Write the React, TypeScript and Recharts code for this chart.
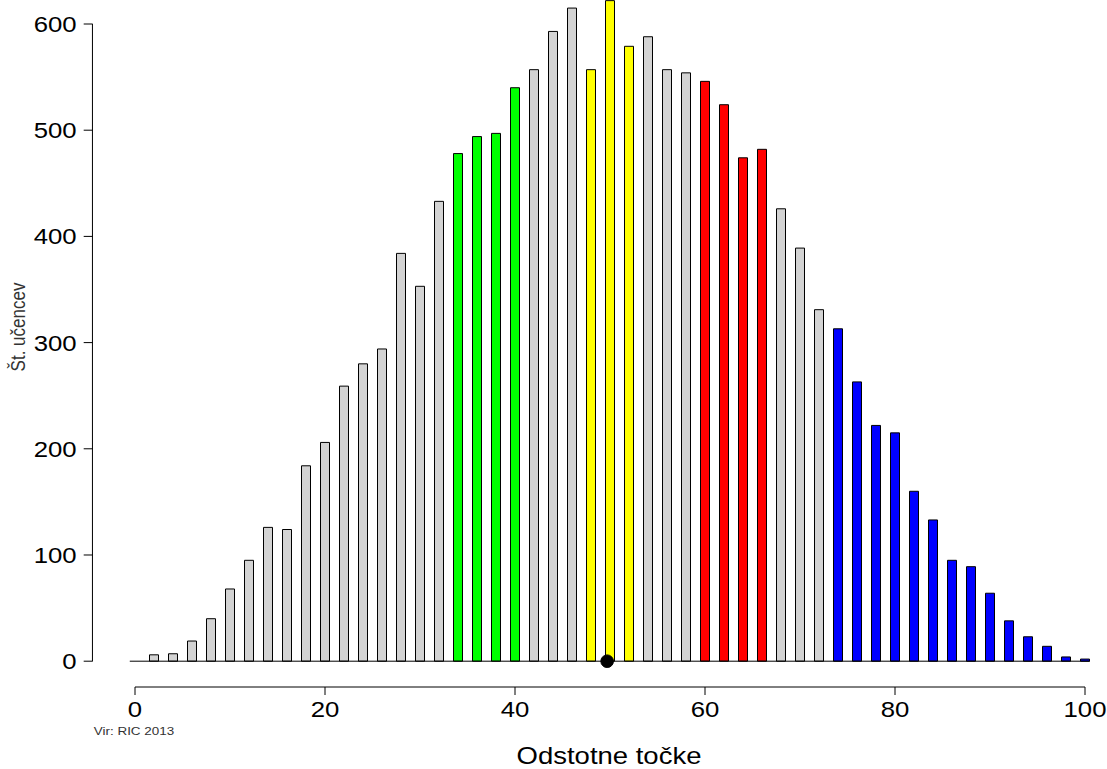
import { Bar, Cell, ComposedChart, Label, ReferenceDot, ReferenceLine, XAxis, YAxis } from 'recharts';

// odstotne točke (centre of each 2-point class)
const points = [
    0, 2, 4, 6, 8, 10, 12, 14, 16, 18, 20, 22, 24, 26, 28, 30, 32, 34, 36, 38, 40, 42, 44, 46, 48, 50,
    52, 54, 56, 58, 60, 62, 64, 66, 68, 70, 72, 74, 76, 78, 80, 82, 84, 86, 88, 90, 92, 94, 96, 98, 100
];
// število učencev
const students = [
    0, 6, 7, 19, 40, 68, 95, 126, 124, 184, 206, 259, 280, 294, 384, 353, 433, 478, 494, 497, 540, 557, 593, 615, 557, 622,
    579, 588, 557, 554, 546, 524, 474, 482, 426, 389, 331, 313, 263, 222, 215, 160, 133, 95, 89, 64, 38, 23, 14, 4, 2
];

const greenPoints = [34, 36, 38, 40];
const yellowPoints = [48, 50, 52];
const redPoints = [60, 62, 64, 66];
const bluePoints = [74, 76, 78, 80, 82, 84, 86, 88, 90, 92, 94, 96, 98, 100];

const xTicks = [0, 20, 40, 60, 80, 100];
const yTicks = [0, 100, 200, 300, 400, 500, 600];
const meanPoint = 49.7;

const data = points.map((p, i) => ({ point: p, count: students[i] }));

const colorFor = (p: number) => {
    if (greenPoints.includes(p)) return '#00FF00';
    if (yellowPoints.includes(p)) return '#FFFF00';
    if (redPoints.includes(p)) return '#FF0000';
    if (bluePoints.includes(p)) return '#0000FF';
    return '#D3D3D3';
};

const FONT = "'Liberation Sans', Arial, sans-serif";
const SX = 1.17; // the picture is a bit wider than tall
const Y_AXIS_PX = 92.7;

const XTick = (props: any) => {
    const { x, y, payload } = props;
    return (
        <text
            transform={`translate(${x},${y + 22}) scale(${SX},1)`}
            textAnchor="middle"
            fontFamily={FONT}
            fontSize={22}
            fill="#000"
        >
            {payload.value}
        </text>
    );
};

const YTick = (props: any) => {
    const { y, payload } = props;
    return (
        <g>
            <line x1={Y_AXIS_PX - 9} x2={Y_AXIS_PX} y1={y} y2={y} stroke="#000" strokeWidth={1} />
            <text
                transform={`translate(${Y_AXIS_PX - 16},${y + 8}) scale(${SX},1)`}
                textAnchor="end"
                fontFamily={FONT}
                fontSize={22}
                fill="#000"
            >
                {payload.value}
            </text>
        </g>
    );
};

export default function App() {
    return (
        <div style={{ width: 1107, height: 769, background: '#fff' }}>
            <style>{'body{margin:0;}'}</style>
            <ComposedChart width={1107} height={769} data={data} margin={{ top: 0, right: 22, bottom: 42, left: 5 }}>
                <XAxis
                    dataKey="point"
                    type="number"
                    domain={[0, 100]}
                    ticks={xTicks}
                    tickSize={8}
                    tickMargin={0}
                    height={40}
                    stroke="#000"
                    tick={<XTick />}
                    interval={0}
                >
                    <Label
                        content={(p: any) => (
                            <text
                                transform={`translate(${p.viewBox.x + p.viewBox.width / 2 - 1},${p.viewBox.y + 77}) scale(${SX},1)`}
                                textAnchor="middle"
                                fontFamily={FONT}
                                fontSize={23.5}
                                fill="#000"
                            >
                                Odstotne točke
                            </text>
                        )}
                    />
                    <Label
                        content={(p: any) => (
                            <text
                                transform={`translate(${p.viewBox.x - 1},${p.viewBox.y + 48}) scale(${SX},1)`}
                                textAnchor="middle"
                                fontFamily={FONT}
                                fontSize={11.5}
                                fill="#333"
                            >
                                Vir: RIC 2013
                            </text>
                        )}
                    />
                </XAxis>
                <YAxis
                    type="number"
                    domain={[-24.3, 622.6]}
                    ticks={yTicks}
                    width={130}
                    axisLine={false}
                    tickLine={false}
                    tick={<YTick />}
                    interval={0}
                    allowDataOverflow
                >
                    <Label
                        content={() => (
                            <text
                                transform={`translate(${25},${327}) scale(${SX},1) rotate(-90)`}
                                textAnchor="middle"
                                fontFamily={FONT}
                                fontSize={17}
                                fill="#333"
                            >
                                Št. učencev
                            </text>
                        )}
                    />
                </YAxis>
                <ReferenceLine
                    segment={[{ x: -4.48, y: 0 }, { x: -4.48, y: 600 }]}
                    stroke="#000"
                    strokeWidth={1}
                    ifOverflow="visible"
                />
                <ReferenceLine
                    segment={[{ x: -0.55, y: 0 }, { x: 100.5, y: 0 }]}
                    stroke="#000"
                    strokeWidth={1}
                    ifOverflow="visible"
                />
                <Bar dataKey="count" barSize={9} stroke="#000" strokeWidth={1} isAnimationActive={false}>
                    {data.map((d) => (
                        <Cell key={d.point} fill={colorFor(d.point)} />
                    ))}
                </Bar>
                <ReferenceDot x={meanPoint} y={0} r={6.3} fill="#000" stroke="#000" ifOverflow="visible" />
            </ComposedChart>
        </div>
    );
}
